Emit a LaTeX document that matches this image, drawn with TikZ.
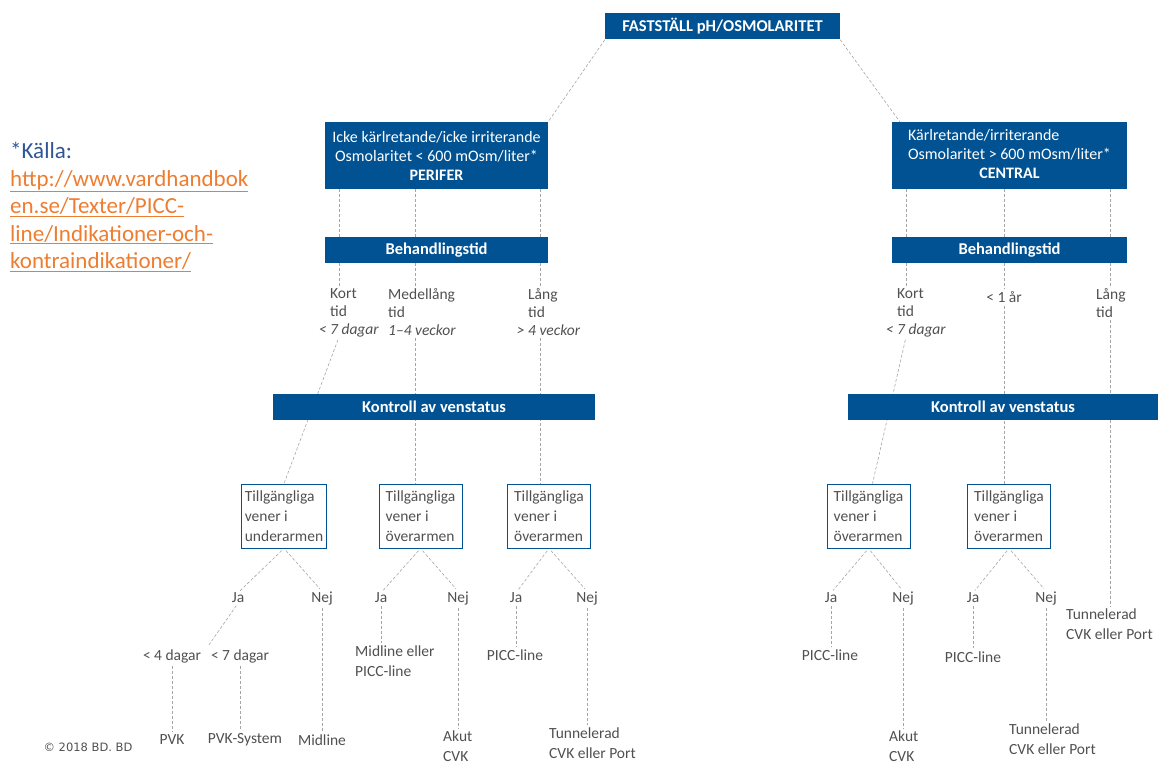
\documentclass[tikz,border=0pt]{standalone}
\usepackage{fontspec}
\setmainfont{Carlito}
\newfontfamily\copyfont{DejaVu Sans}
\usepackage{tikz}
\usetikzlibrary{calc, %for the split point
                backgrounds, %dashed lines behind the bars
                positioning}

\definecolor{bdblue}{RGB}{0,82,147}
\definecolor{textgrey}{RGB}{80,80,80}
\definecolor{linegrey}{RGB}{165,165,165}
\definecolor{srcblue}{RGB}{47,85,151}
\definecolor{srcorange}{RGB}{237,125,49}

\begin{document}
\begin{tikzpicture}[x=1pt, y=-1pt,
                    font=\fontsize{15.5}{20}\selectfont,
                    Bluebar/.style={fill=bdblue, text=white, font=\fontsize{16.5}{20}\selectfont\bfseries, minimum height=26pt, inner sep=2pt},
                    Catbox/.style={fill=bdblue, text=white, align=center, minimum height=67pt, inner sep=3pt, font=\fontsize{16}{19}\selectfont},
                    Venbox/.style={draw=bdblue, line width=0.8pt, text=textgrey, align=left, minimum width=83pt, minimum height=64pt, inner sep=3pt},
                    Lbl/.style={text=textgrey, inner sep=0pt, align=left},
                    Dur/.style={Lbl, anchor=north west, font=\fontsize{15.5}{18}\selectfont},
                    dashline/.style={draw=linegrey, dash pattern=on 3pt off 2pt, line width=0.6pt},
                    gap/.style={shorten <=3pt, shorten >=3pt}
                    ]

    \useasboundingbox (0,0) rectangle (1158,767);

    % SOURCE %
    \node[anchor=north west, align=left, inner sep=0pt, font=\fontsize{23}{27.5}\selectfont] (src) at (10,142)
        {\textcolor{srcblue}{*Källa:}\\
         \textcolor{srcorange}{\underline{http://www.vardhandbok}}\\
         \textcolor{srcorange}{\underline{en.se/Texter/PICC-}}\\
         \textcolor{srcorange}{\underline{line/Indikationer-och-}}\\
         \textcolor{srcorange}{\underline{kontraindikationer/}}};

    % TOP AND CATEGORIES %
    \node[Bluebar, minimum width=235pt] (top) at (722.5,26.5) {FASTSTÄLL pH/OSMOLARITET};
    \node[Catbox, minimum width=223pt] (catL) at (436.5,155.5)
        {Icke kärlretande/icke irriterande\\Osmolaritet < 600 mOsm/liter*\\\textbf{PERIFER}};
    \node[Catbox, minimum width=235pt] (catR) at (1009.5,155.5)
        {\begin{tabular}{@{}l@{}}Kärlretande/irriterande\\Osmolaritet > 600 mOsm/liter*\\\multicolumn{1}{@{}c@{}}{\textbf{CENTRAL}}\end{tabular}};

    % BARS %
    \node[Bluebar, minimum width=223pt] (behL) at (436.5,250) {Behandlingstid};
    \node[Bluebar, minimum width=235pt] (behR) at (1009.5,250) {Behandlingstid};
    \node[Bluebar, minimum width=322pt] (kontrL) at (434,406.5) {Kontroll av venstatus};
    \node[Bluebar, minimum width=310pt] (kontrR) at (1003,406.5) {Kontroll av venstatus};

    % COLUMNS %
    \foreach \c/\x in {L1/339, L2/415, L3/540, R1/906, R2/1004, R3/1110}
    \coordinate (c\c) at (\x,0);

    % DURATIONS %
    \node[Dur] (kortL) at (330,288) {Kort\\tid\\\textit{\llap{< }7 dagar}};
    \node[Dur] (medL) at (388,288) {Medellång\\tid\\\textit{1–4 veckor}};
    \node[Dur] (langL) at (528,288) {Lång\\tid\\\textit{\llap{> }4 veckor}};
    \node[Dur] (kortR) at (897,288) {Kort\\tid\\\textit{\llap{< }7 dagar}};
    \node[Lbl] (arR) at (1004,297) {< 1 år};
    \node[Dur] (langR) at (1096,288) {Lång\\tid};

    % VEIN BOXES %
    \foreach \n/\x/\arm in {1/284/underarmen, 2/420.5/överarmen, 3/549/överarmen, 4/868.5/överarmen, 5/1009/överarmen}
    \node[Venbox] (box\n) at (\x,516) {Tillgängliga\\vener i\\\arm};

    \foreach \n/\j/\k in {1/238/322, 2/381/458, 3/516/587, 4/831/903, 5/973/1046}{
    \node[Lbl] (ja\n) at (\j,598) {Ja};
    \node[Lbl] (nej\n) at (\k,598) {Nej};
    }

    % OUTCOMES %
    \node[Lbl] (d4) at (172,656) {< 4 dagar};
    \node[Lbl] (d7) at (240,656) {< 7 dagar};
    \node[Lbl] (pvk) at (172,740) {PVK};
    \node[Lbl] (pvks) at (245,740) {PVK-System};
    \node[Lbl] (midl) at (322,740) {Midline};
    \node[Lbl, anchor=north west] (midpicc) at (355,646) {Midline eller\\PICC-line};
    \node[Lbl, anchor=north west] (akut2) at (443,731) {Akut\\CVK};
    \node[Lbl] (picc3) at (515,655) {PICC-line};
    \node[Lbl, anchor=north west] (tun3) at (549,728) {Tunnelerad\\CVK eller Port};
    \node[Lbl] (picc4) at (830,655) {PICC-line};
    \node[Lbl, anchor=north west] (akut4) at (889,731) {Akut\\CVK};
    \node[Lbl] (picc5) at (973,657) {PICC-line};
    \node[Lbl, anchor=north west] (tun5) at (1009,724) {Tunnelerad\\CVK eller Port};
    \node[Lbl, anchor=north west] (tunR) at (1066,609) {Tunnelerad\\CVK eller Port};

    \node[text=textgrey, font=\copyfont\fontsize{11.5}{13}\selectfont] (copy) at (88,747) {© 2018 BD. BD};

    % CONNECTORS %
    \begin{scope}[on background layer]
    \draw[dashline] (top.south west) -- (catL.north east);
    \draw[dashline] (top.south east) -- ($(catR.north west)+(8,0)$);

    \foreach \c in {L1,L2,L3}
    \draw[dashline] (catL.south -| c\c) -- (behL.north -| c\c);
    \foreach \c in {R1,R2,R3}
    \draw[dashline] (catR.south -| c\c) -- (behR.north -| c\c);

    \draw[dashline, shorten >=2pt] (behL.south -| cL1) -- (kortL.north -| cL1);
    \draw[dashline, shorten >=2pt] (behL.south -| cL2) -- (medL.north -| cL2);
    \draw[dashline, shorten >=2pt] (behL.south -| cL3) -- (langL.north -| cL3);
    \draw[dashline, shorten >=2pt] (behR.south -| cR1) -- (kortR.north -| cR1);
    \draw[dashline, shorten >=2pt] (behR.south -| cR2) -- (arR.north -| cR2);
    \draw[dashline, shorten >=2pt] (behR.south -| cR3) -- (langR.north -| cR3);

    \draw[dashline, shorten <=3pt] (kortL.south -| cL1) -- (box1.north);
    \draw[dashline, shorten <=3pt] (medL.south -| cL2) -- (box2.north -| cL2);
    \draw[dashline, shorten <=3pt] (langL.south -| cL3) -- (box3.north -| cL3);
    \draw[dashline, shorten <=3pt] (kortR.south -| cR1) -- ($(box4.north)+(4,0)$);
    \draw[dashline, shorten <=3pt] (arR.south -| cR2) -- (box5.north -| cR2);
    \draw[dashline, gap] (langR.south -| cR3) -- (tunR.north -| cR3);
    \end{scope}

    \foreach \n in {1,...,5}{
    \draw[dashline, gap] (box\n.south) -- (ja\n.north);
    \draw[dashline, gap] (box\n.south) -- (nej\n.north);
    }

    \coordinate (jasplit) at ($(d4.north east)!0.5!(d7.north west)$);
    \draw[dashline, gap] (ja1.south) -- (jasplit);
    \draw[dashline, gap] (d4.south) -- (pvk.north);
    \draw[dashline, gap] (d7.south) -- (pvks.north -| d7.south);
    \draw[dashline, gap] (nej1.south) -- (midl.north);
    \draw[dashline, gap] (ja2.south) -- (midpicc.north -| ja2.south);
    \draw[dashline, gap] (nej2.south) -- (akut2.north -| nej2.south);
    \draw[dashline, gap] (ja3.south) -- (picc3.north -| ja3.south);
    \draw[dashline, gap] (nej3.south) -- (tun3.north -| nej3.south);
    \draw[dashline, gap] (ja4.south) -- (picc4.north -| ja4.south);
    \draw[dashline, gap] (nej4.south) -- (akut4.north -| nej4.south);
    \draw[dashline, gap] (ja5.south) -- (picc5.north -| ja5.south);
    \draw[dashline, gap] (nej5.south) -- (tun5.north -| nej5.south);
\end{tikzpicture}
\end{document}
